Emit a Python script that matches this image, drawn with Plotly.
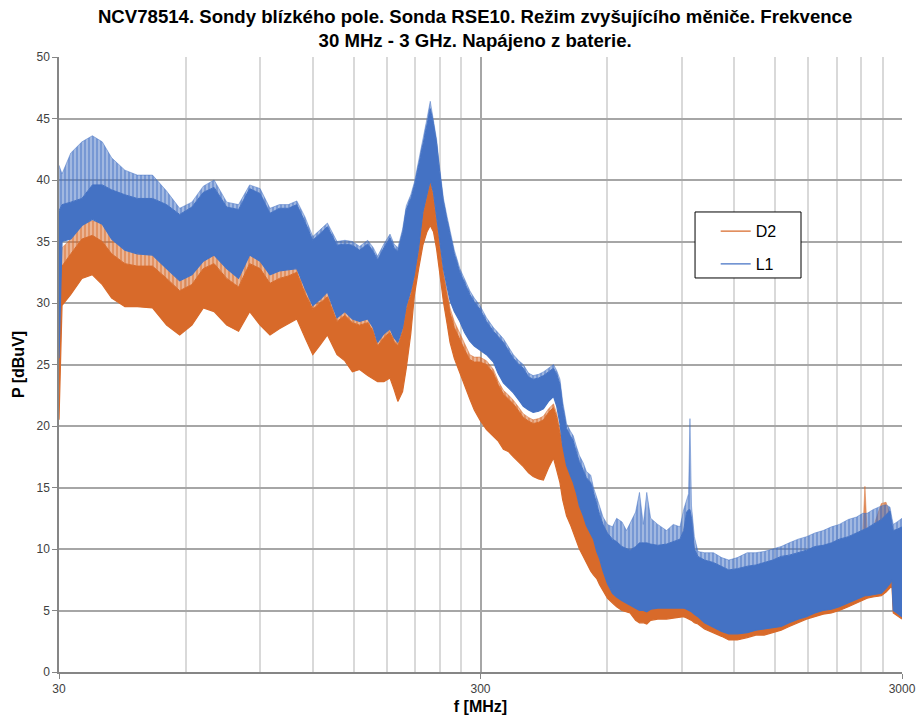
import plotly.graph_objects as go

# ---------------- data ----------------
freq_mhz = [
    30, 30.5, 32, 34, 36, 38, 40, 43, 46, 50, 54, 58, 62, 66, 70, 75, 80, 85, 90, 95, 100,
    105, 110, 115, 120, 125, 130, 137, 143, 149, 155, 162, 167, 171, 177, 183, 187, 191, 196, 200,
    205, 209, 214, 219, 224, 228, 232, 236, 240, 245, 250, 254, 260, 268, 275, 283, 290, 299,
    310, 322, 330, 340, 350, 359, 370, 379, 390, 400, 412, 423, 435, 447, 455, 463, 470, 480,
    490, 498, 507, 515, 526, 535, 548, 556, 566, 575, 586, 600, 617, 631,
    650, 666, 679, 700, 715, 730, 744, 760, 790, 829, 860, 892, 910, 925, 935, 942, 950, 965, 984,
    1020, 1071, 1120, 1165, 1220, 1288, 1350, 1413, 1480, 1550, 1620, 1700, 1780, 1863, 1950,
    2040, 2130, 2237, 2340, 2420, 2450, 2480, 2560, 2680, 2750, 2810, 2840, 2860, 2920, 3000,
]

# L1 (blue): lower edge, top of the dense body, top of the spikes
l1_lower = [
    25.5, 35.0, 35.2, 36.3, 36.8, 36.4, 35.2, 34.3, 34.0, 33.9, 32.8, 31.8, 32.3, 33.4, 33.9, 32.8, 32.0, 33.9, 33.4, 32.3, 32.6,
    32.7, 32.8, 31.2, 29.8, 30.3, 30.9, 28.8, 29.3, 28.7, 28.5, 28.7, 28.0, 26.8, 27.5, 27.9, 27.2, 26.8, 28.0, 29.8,
    31.0, 32.3, 34.5, 37.4, 39.0, 40.0, 39.0, 37.0, 35.0, 32.8, 31.3, 30.2, 29.3, 28.5, 27.6, 26.9, 26.5, 26.2,
    25.8, 25.2, 24.3, 23.5, 23.1, 22.7, 22.1, 21.6, 21.3, 21.1, 21.2, 21.4, 22.0, 22.4, 21.6, 20.2, 18.4, 16.8,
    16.0, 15.4, 14.5, 13.5, 12.7, 11.9, 11.2, 10.8, 9.8, 9.2, 8.2, 7.2, 6.4, 6.1,
    5.8, 5.6, 5.4, 5.2, 5.0, 5.0, 4.9, 5.1, 5.2, 5.2, 5.2, 5.2, 5.2, 5.1, 5.0, 5.0, 4.9, 4.7, 4.5,
    4.0, 3.6, 3.3, 3.1, 3.1, 3.2, 3.4, 3.5, 3.6, 3.7, 4.0, 4.3, 4.5, 4.8, 5.0,
    5.1, 5.3, 5.6, 5.9, 6.1, 6.2, 6.2, 6.3, 6.4, 6.8, 7.2, 7.5, 5.0, 4.8, 4.5,
]
l1_body = [
    37.5, 38.0, 38.2, 38.5, 39.6, 39.6, 39.2, 38.8, 38.5, 38.5, 38.0, 37.2, 37.8, 39.0, 39.4, 37.8, 37.6, 39.3, 38.9, 37.3, 37.7,
    37.7, 38.0, 36.6, 35.1, 35.7, 36.2, 34.7, 34.8, 34.7, 34.3, 34.8, 34.2, 33.5, 34.5, 35.3, 34.5, 34.2, 35.7, 37.6,
    38.5, 39.5, 41.2, 43.0, 44.6, 45.8, 44.6, 43.0, 40.7, 38.2, 36.7, 35.6, 34.0, 32.5, 31.7, 30.7, 30.1, 29.5,
    28.5, 27.7, 27.3, 26.8, 26.1, 25.5, 25.0, 24.7, 24.0, 23.8, 23.9, 24.1, 24.4, 24.7, 24.2, 23.4, 21.6, 19.8,
    19.2, 18.8, 17.8, 17.1, 16.4, 15.8, 15.4, 14.6, 13.5, 12.8, 12.0, 11.3, 10.8, 10.6,
    10.2, 10.0, 9.9, 10.2, 10.5, 10.5, 10.5, 10.4, 10.3, 10.4, 10.6, 10.8, 11.5, 13.0, 13.2, 13.2, 12.5, 10.0, 9.4,
    9.1, 8.9, 8.6, 8.3, 8.4, 8.6, 8.7, 8.9, 9.1, 9.4, 9.5, 9.7, 9.9, 10.2, 10.3,
    10.5, 10.8, 11.0, 11.3, 11.5, 11.6, 11.7, 12.0, 12.4, 12.8, 13.1, 12.0, 11.5, 11.6, 11.8,
]
l1_peak = [
    41.2, 40.5, 42.2, 43.1, 43.6, 43.1, 41.8, 40.8, 40.4, 40.4, 39.1, 37.7, 38.2, 39.5, 40.0, 38.2, 38.0, 39.6, 39.3, 37.7, 38.0,
    38.0, 38.3, 37.0, 35.4, 36.0, 36.5, 35.0, 35.1, 35.0, 34.6, 35.1, 34.5, 33.8, 34.8, 35.6, 34.8, 34.5, 36.0, 37.9,
    38.8, 39.8, 41.5, 43.3, 45.0, 46.4, 45.0, 43.3, 41.0, 38.5, 37.0, 35.9, 34.3, 32.8, 32.0, 31.0, 30.4, 29.8,
    28.8, 28.0, 27.6, 27.1, 26.4, 25.8, 25.3, 25.0, 24.3, 24.1, 24.2, 24.4, 24.7, 25.0, 24.5, 23.8, 22.0, 20.2,
    19.6, 19.2, 18.3, 17.6, 17.0, 16.3, 16.0, 15.0, 14.2, 13.5, 12.6, 12.0, 11.8, 12.5,
    12.2, 11.5, 12.1, 13.0, 14.6, 12.0, 14.6, 12.5, 12.0, 11.5, 12.0, 11.8, 13.2, 14.0, 14.5, 20.6, 13.5, 11.0, 9.8,
    9.7, 9.7, 9.3, 9.1, 9.3, 9.7, 9.7, 9.8, 10.0, 10.2, 10.5, 10.8, 11.0, 11.3, 11.5,
    11.8, 12.0, 12.4, 12.6, 12.9, 12.9, 12.9, 13.2, 13.5, 13.6, 13.4, 12.5, 12.0, 12.2, 12.5,
]

# D2 (orange): lower edge, top of the dense body, top of the spikes
d2_lower = [
    20.5, 29.8, 30.7, 32.0, 32.3, 31.5, 30.4, 29.7, 29.7, 29.6, 28.2, 27.4, 28.2, 29.6, 29.3, 28.2, 27.7, 29.3, 28.2, 27.4, 27.9,
    28.3, 28.7, 27.2, 25.8, 26.6, 27.4, 25.8, 25.3, 24.4, 24.6, 24.1, 23.8, 23.6, 23.6, 23.9, 23.0, 22.0, 22.8, 24.7,
    27.5, 30.6, 32.8, 34.7, 35.8, 36.3, 35.8, 34.4, 32.5, 30.1, 28.3, 26.8, 25.5, 24.3, 23.2, 22.2, 21.3, 20.5,
    19.7, 19.2, 18.8, 18.1, 17.9, 17.5, 17.1, 16.7, 16.2, 15.9, 15.7, 15.6, 16.6, 17.4, 16.4, 15.4, 14.0, 12.7,
    12.0, 11.4, 10.6, 10.0, 9.4, 8.9, 8.2, 7.9, 7.6, 7.1, 6.6, 6.0, 5.6, 5.3,
    5.0, 4.9, 4.8, 4.2, 4.0, 4.0, 3.9, 4.2, 4.3, 4.3, 4.4, 4.5, 4.5, 4.4, 4.3, 4.3, 4.2, 4.0, 3.9,
    3.5, 3.2, 2.9, 2.6, 2.6, 2.8, 3.0, 3.0, 3.2, 3.4, 3.7, 4.0, 4.3, 4.5, 4.7,
    4.8, 5.0, 5.3, 5.6, 5.8, 5.9, 6.0, 6.1, 6.2, 6.5, 6.8, 7.0, 4.8, 4.6, 4.3,
]
d2_body = [
    32.0, 33.0, 34.0, 35.2, 35.5, 35.0, 34.0, 33.2, 33.0, 33.0, 32.0, 31.0, 31.5, 32.8, 33.2, 32.0, 31.3, 33.2, 32.8, 31.6, 32.0,
    32.2, 32.5, 30.8, 29.5, 30.0, 30.5, 28.5, 29.0, 28.4, 28.2, 28.4, 27.7, 26.5, 27.2, 27.6, 26.9, 26.5, 27.7, 29.5,
    30.7, 32.0, 34.2, 37.2, 38.7, 39.8, 38.6, 36.8, 34.6, 32.2, 30.4, 29.2, 28.0, 27.0, 26.2, 25.4, 25.2, 25.2,
    25.0, 24.3, 23.4, 22.6, 22.2, 21.8, 21.2, 20.7, 20.4, 20.2, 20.3, 20.5, 21.1, 21.5, 20.7, 19.5, 18.4, 16.8,
    16.0, 15.4, 14.5, 13.5, 12.7, 11.9, 11.2, 10.8, 9.8, 9.2, 8.2, 7.2, 6.4, 6.1,
    7.4, 7.3, 7.2, 7.0, 6.9, 6.8, 6.8, 6.8, 6.7, 6.7, 6.6, 6.5, 6.5, 6.5, 6.4, 6.4, 6.3, 6.0, 5.7,
    5.2, 4.7, 4.4, 4.2, 4.2, 4.2, 4.4, 4.5, 4.6, 4.7, 5.0, 5.3, 5.5, 5.8, 6.0,
    6.1, 6.3, 6.6, 6.9, 7.1, 7.2, 7.2, 7.3, 7.4, 7.8, 8.2, 8.5, 6.0, 5.8, 5.5,
]
d2_peak = [
    33.0, 34.5, 35.2, 36.4, 36.7, 36.5, 35.3, 34.4, 34.0, 34.0, 33.0, 32.0, 32.5, 33.6, 34.0, 33.0, 32.2, 34.0, 33.5, 32.5, 32.7,
    32.8, 33.0, 31.4, 30.0, 30.5, 31.0, 29.0, 29.5, 28.9, 28.7, 28.9, 28.2, 27.0, 27.7, 28.1, 27.4, 27.0, 28.2, 30.0,
    31.2, 32.5, 34.7, 37.6, 39.0, 40.1, 39.0, 37.2, 35.0, 32.6, 30.8, 29.6, 28.5, 27.5, 26.6, 25.8, 25.6, 25.6,
    25.3, 24.6, 23.7, 22.9, 22.5, 22.1, 21.5, 21.0, 20.7, 20.5, 20.6, 20.8, 21.4, 21.8, 21.0, 19.8, 18.6, 17.0,
    16.2, 15.6, 14.7, 13.7, 12.9, 12.1, 11.4, 11.0, 10.0, 9.4, 8.4, 7.4, 6.6, 6.3,
    9.9, 9.7, 9.6, 9.9, 10.2, 10.2, 10.2, 10.1, 10.0, 10.1, 10.3, 10.5, 11.2, 12.7, 12.9, 12.9, 12.2, 9.7, 9.1,
    8.8, 8.6, 8.3, 8.0, 8.1, 8.3, 8.4, 8.6, 8.8, 9.1, 9.2, 9.4, 9.6, 9.9, 10.0,
    10.2, 10.5, 10.7, 11.0, 11.2, 15.1, 11.4, 11.7, 13.7, 13.8, 12.8, 11.7, 11.2, 11.3, 11.5,
]

series_names = ["D2", "L1"]
x_tick_labels = ["30", "300", "3000"]
y_ticks = [0, 5, 10, 15, 20, 25, 30, 35, 40, 45, 50]

# ---------------- styling ----------------
ORANGE = "#D86A2A"
BLUE = "#4472C4"
FONT = "Liberation Sans, Arial, sans-serif"

fig = go.Figure()


def add_band(name, lower, body, peak, color, rgb):
    fig.add_trace(go.Scatter(x=freq_mhz, y=lower, mode="lines", name=name,
                             legendgroup=name, showlegend=True,
                             line=dict(color=color, width=1.2), hoverinfo="skip"))
    fig.add_trace(go.Scatter(x=freq_mhz, y=body, mode="lines", name=name,
                             legendgroup=name, showlegend=False, fill="tonexty",
                             fillcolor=color, line=dict(color=color, width=1),
                             hoverinfo="skip"))
    fig.add_trace(go.Scatter(x=freq_mhz, y=peak, mode="lines", name=name,
                             legendgroup=name, showlegend=False, fill="tonexty",
                             fillcolor="rgba(%s,0.45)" % rgb,
                             fillpattern=dict(shape="|", fgcolor=color,
                                              bgcolor="rgba(%s,0.45)" % rgb,
                                              size=4, solidity=0.6, fillmode="overlay"),
                             line=dict(color="rgba(%s,0.6)" % rgb, width=0.8),
                             hoverinfo="skip"))


add_band(series_names[0], d2_lower, d2_body, d2_peak, ORANGE, "216,106,42")
add_band(series_names[1], l1_lower, l1_body, l1_peak, BLUE, "68,114,196")

major_x = [30, 300, 3000]
minor_x = [30 * k * 10 ** d for d in (0, 1) for k in range(2, 10)]

fig.update_layout(
    width=919, height=719,
    margin=dict(l=59, r=17, t=57, b=47),
    paper_bgcolor="white", plot_bgcolor="white",
    font=dict(family=FONT, size=12, color="#404040"),
    hovermode=False,
    title=dict(
        text="<b>NCV78514. Sondy blízkého pole. Sonda RSE10. Režim zvyšujícího měniče. Frekvence<br>"
             "30 MHz - 3 GHz. Napájeno z baterie.</b>",
        x=0.517, xanchor="center", y=0.968, yanchor="top",
        font=dict(family=FONT, size=18.6, color="#000000"),
    ),
    legend=dict(
        x=0.779, xanchor="left", y=0.7445, yanchor="top",
        borderwidth=0, bgcolor="rgba(0,0,0,0)",
        font=dict(family=FONT, size=16, color="#000000"),
        tracegroupgap=9, itemwidth=30,
    ),
    shapes=[dict(type="rect", xref="paper", yref="paper",
                 x0=0.7545, x1=0.8802, y0=0.6407, y1=0.7480,
                 line=dict(color="#000000", width=1), fillcolor="white", layer="above")],
)

fig.update_xaxes(
    type="log", range=[1.4771212547, 3.4771212547],
    tickmode="array", tickvals=major_x, ticktext=x_tick_labels,
    ticks="outside", ticklen=5, tickcolor="#868686",
    showgrid=True, gridcolor="#A6A6A6", gridwidth=1.5,
    minor=dict(tickmode="array", tickvals=minor_x, showgrid=True,
               gridcolor="#D9D9D9", gridwidth=1.5, ticks=""),
    showline=True, linecolor="#868686", linewidth=1.5, mirror=False,
    zeroline=False,
    tickfont=dict(family=FONT, size=12, color="#404040"),
    title=dict(text="<b>f [MHz]</b>", font=dict(family=FONT, size=16, color="#000000"), standoff=6),
    automargin=False,
)
fig.update_yaxes(
    range=[0, 50], tickmode="array", tickvals=y_ticks,
    ticks="outside", ticklen=5, tickcolor="#868686",
    showgrid=True, gridcolor="#A6A6A6", gridwidth=1.5,
    showline=True, linecolor="#868686", linewidth=1.5,
    zeroline=False,
    tickfont=dict(family=FONT, size=12, color="#404040"),
    title=dict(text="<b>P [dBuV]</b>", font=dict(family=FONT, size=16, color="#000000"), standoff=8),
    automargin=False,
)

fig.write_html("out.html", config={"displayModeBar": False},
               post_script="document.body.style.margin='0px';")
